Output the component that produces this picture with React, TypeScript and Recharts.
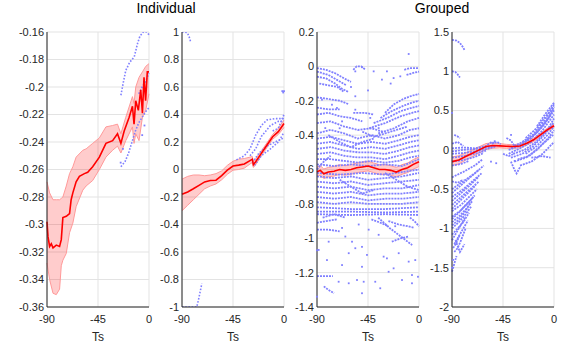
import { ComposedChart, Line, Area, Scatter, XAxis, YAxis, CartesianGrid } from 'recharts'

type Pt = [number, number]

const BLUE = '#8080ff'
const FONT = '"Liberation Sans", Arial, sans-serif'

const timeTicks = [-90, -45, 0]
const titles = ['Individual', 'Grouped']

// panel 1
const p1Ticks = [-0.36, -0.34, -0.32, -0.3, -0.28, -0.26, -0.24, -0.22, -0.2, -0.18, -0.16]
const p1MeanT = [-90, -89.1, -87.7, -86.2, -84.7, -81.8, -78.9, -77.4, -76, -73, -70.1, -68.7, -67.2, -64.3, -61.4, -57, -54.1, -49.7, -43.8, -38, -32.1, -27.8, -24.8, -21.9, -17.5, -14.6, -13.2, -11.7, -9.4, -7.3, -5.8, -4.4, -3, -1.5, 0]
const p1MeanV = [-0.298, -0.309, -0.316, -0.314, -0.317, -0.315, -0.316, -0.311, -0.295, -0.294, -0.292, -0.282, -0.277, -0.269, -0.265, -0.263, -0.262, -0.258, -0.251, -0.241, -0.239, -0.234, -0.241, -0.232, -0.222, -0.214, -0.227, -0.21, -0.217, -0.202, -0.219, -0.193, -0.21, -0.189, -0.189]
const p1BandT = [-90, -87.7, -84.7, -81.8, -78.9, -77.4, -76, -73, -70.1, -67.2, -64.3, -58.4, -55.5, -49.7, -43.8, -38, -32.1, -27.8, -24.8, -20.5, -14.6, -13.2, -11.7, -8.8, -5.8, -2.9, 0]
const p1BandHi = [-0.269, -0.277, -0.282, -0.282, -0.282, -0.281, -0.28, -0.272, -0.263, -0.258, -0.251, -0.246, -0.245, -0.241, -0.237, -0.229, -0.228, -0.227, -0.234, -0.222, -0.207, -0.212, -0.2, -0.193, -0.189, -0.185, -0.183]
const p1BandLo = [-0.328, -0.34, -0.35, -0.351, -0.347, -0.33, -0.326, -0.321, -0.306, -0.299, -0.287, -0.275, -0.272, -0.268, -0.26, -0.251, -0.246, -0.243, -0.248, -0.239, -0.229, -0.241, -0.234, -0.239, -0.222, -0.217, -0.205]
const p1Streaks: Pt[][] = [
  [[-24.8, -0.206], [-22.5, -0.196], [-20.5, -0.188], [-17, -0.182], [-13, -0.178], [-10, -0.168], [-8, -0.163], [-5, -0.16], [-2, -0.16], [0, -0.162]],
  [[-24.8, -0.258], [-21, -0.254], [-18, -0.248], [-15, -0.24], [-12, -0.232], [-9, -0.226], [-6, -0.222], [-3, -0.218], [0, -0.215]],
  [[-9, -0.205], [-6, -0.2], [-3, -0.196], [0, -0.19]],
]
const p1Dots: Pt[] = [[-25, -0.255], [-23, -0.245], [-6, -0.235], [-4, -0.228]]

// panel 2
const p2Ticks = [-1, -0.8, -0.6, -0.4, -0.2, 0, 0.2, 0.4, 0.6, 0.8, 1]
const p2T = [-90, -85, -80, -75, -70, -65, -60, -55, -50, -45, -40, -35, -30, -28, -27, -25, -20, -15, -10, -5, 0]
const p2Mean = [-0.18, -0.163, -0.14, -0.115, -0.09, -0.08, -0.078, -0.045, -0.005, 0.025, 0.032, 0.04, 0.065, 0.075, 0.035, 0.056, 0.117, 0.178, 0.238, 0.275, 0.335]
const p2Hi = [-0.07, -0.05, -0.04, -0.04, -0.045, -0.04, -0.03, -0.01, 0.03, 0.06, 0.075, 0.08, 0.09, 0.095, 0.06, 0.08, 0.135, 0.195, 0.255, 0.3, 0.36]
const p2Lo = [-0.3, -0.26, -0.22, -0.18, -0.14, -0.12, -0.105, -0.075, -0.035, -0.005, 0, 0.01, 0.04, 0.05, 0.015, 0.035, 0.1, 0.16, 0.22, 0.255, 0.305]
const p2Streaks: Pt[][] = [
  [[-90, 1], [-87, 1], [-85, 0.99], [-84, 0.97], [-83, 0.95], [-82.5, 0.93]],
  [[-90, -1], [-80, -1], [-77, -1], [-75.5, -0.95], [-74, -0.89], [-72.5, -0.83]],
  [[-42, 0.07], [-35, 0.1], [-30, 0.15], [-25, 0.25], [-20, 0.32], [-15, 0.36], [-8, 0.37], [0, 0.37]],
  [[-30, 0.1], [-25, 0.15], [-20, 0.24], [-12, 0.32], [-5, 0.35], [0, 0.35]],
  [[-28, 0.05], [-22, 0.12], [-15, 0.17], [-8, 0.2], [0, 0.23]],
  [[-26, 0.03], [-20, 0.1], [-12, 0.15], [-5, 0.2], [0, 0.27]],
  [[-10, 0.28], [-5, 0.3], [0, 0.4]],
]
const p2Dots: Pt[] = [[-1.5, 0.57], [0, 0.57], [-0.7, 0.56]]

// panel 3
const p3Ticks = [-1.4, -1.2, -1, -0.8, -0.6, -0.4, -0.2, 0, 0.2]
const p3T = [-90, -87, -84, -80, -75, -70, -65, -60, -55, -50, -45, -40, -35, -30, -25, -20, -15, -10, -5, 0]
const p3Mean = [-0.613, -0.605, -0.625, -0.615, -0.61, -0.6, -0.605, -0.6, -0.59, -0.585, -0.58, -0.59, -0.6, -0.6, -0.605, -0.615, -0.6, -0.59, -0.57, -0.555]
const p3Hi = [-0.585, -0.578, -0.597, -0.588, -0.582, -0.572, -0.578, -0.572, -0.562, -0.557, -0.552, -0.562, -0.572, -0.572, -0.578, -0.588, -0.572, -0.562, -0.542, -0.527]
const p3Lo = [-0.641, -0.633, -0.653, -0.643, -0.638, -0.628, -0.633, -0.628, -0.618, -0.613, -0.608, -0.618, -0.628, -0.628, -0.633, -0.643, -0.628, -0.618, -0.598, -0.583]
const p3Streaks: Pt[][] = [
  [[-90, -0.01], [-82, -0.02], [-74, -0.04], [-66, -0.07], [-60, -0.09]],
  [[-90, -0.03], [-80, -0.05], [-72, -0.08], [-64, -0.11]],
  [[-90, -0.06], [-82, -0.07], [-74, -0.1], [-68, -0.13], [-62, -0.15]],
  [[-88, -0.1], [-80, -0.11], [-72, -0.12], [-66, -0.15]],
  [[-58, -0.02], [-55, 0], [-51, 0], [-47, -0.02]],
  [[-13, -0.02], [-8, -0.01], [-3, -0.01], [0, -0.01]],
  [[-11, -0.05], [-6, -0.04], [0, -0.03]],
  [[-90, -0.18], [-80, -0.19], [-70, -0.2], [-62, -0.22]],
  [[-90, -0.24], [-80, -0.25], [-70, -0.25]],
  [[-58, -0.27], [-48, -0.27], [-40, -0.28]],
  [[-30, -0.27], [-22, -0.22], [-14, -0.19], [-6, -0.17], [0, -0.16]],
  [[-34, -0.3], [-24, -0.26], [-14, -0.23], [-6, -0.21], [0, -0.2]],
  [[-40, -0.33], [-28, -0.3], [-16, -0.26], [-6, -0.24], [0, -0.23]],
  [[-44, -0.36], [-30, -0.33], [-16, -0.29], [-6, -0.27], [0, -0.26]],
  [[-36, -0.39], [-22, -0.36], [-10, -0.32], [0, -0.3]],
  [[-90, -0.28], [-80, -0.27], [-70, -0.29], [-60, -0.3], [-50, -0.32]],
  [[-90, -0.33], [-78, -0.32], [-66, -0.35], [-54, -0.37], [-42, -0.36], [-32, -0.38]],
  [[-90, -0.39], [-78, -0.37], [-66, -0.39], [-54, -0.42], [-42, -0.4], [-30, -0.42], [-18, -0.4], [-8, -0.37], [0, -0.36]],
  [[-90, -0.42], [-78, -0.41], [-66, -0.43], [-54, -0.45], [-42, -0.44], [-30, -0.45], [-18, -0.43], [-8, -0.41], [0, -0.4]],
  [[-80, -0.4], [-70, -0.44], [-60, -0.47], [-50, -0.44], [-40, -0.42]],
  [[-50, -0.38], [-40, -0.41], [-30, -0.39], [-20, -0.37], [-10, -0.35]],
  [[-90, -0.45], [-78, -0.44], [-66, -0.46], [-54, -0.48], [-42, -0.47], [-30, -0.48], [-18, -0.46], [-8, -0.44], [0, -0.43]],
  [[-90, -0.48], [-78, -0.47], [-66, -0.49], [-54, -0.5], [-42, -0.5], [-30, -0.51], [-18, -0.49], [-8, -0.47], [0, -0.46]],
  [[-90, -0.51], [-78, -0.5], [-66, -0.52], [-54, -0.53], [-42, -0.53], [-30, -0.54], [-18, -0.52], [-8, -0.5], [0, -0.49]],
  [[-90, -0.54], [-78, -0.54], [-66, -0.55], [-54, -0.56], [-42, -0.55], [-30, -0.56], [-18, -0.55], [-8, -0.53], [0, -0.52]],
  [[-90, -0.57], [-75, -0.58], [-60, -0.57], [-45, -0.58], [-30, -0.57], [-15, -0.58], [0, -0.54]],
  [[-90, -0.6], [-85, -0.56], [-78, -0.52]],
  [[-90, -0.62], [-70, -0.63], [-50, -0.62], [-30, -0.63], [0, -0.6]],
  [[-90, -0.64], [-75, -0.65], [-60, -0.64], [-45, -0.66], [-30, -0.65], [-15, -0.64], [0, -0.62]],
  [[-90, -0.67], [-75, -0.68], [-60, -0.67], [-45, -0.69], [-30, -0.68], [-15, -0.67], [0, -0.66]],
  [[-70, -0.66], [-60, -0.7], [-50, -0.74], [-40, -0.72]],
  [[-30, -0.62], [-20, -0.66], [-10, -0.7], [0, -0.72]],
  [[-90, -0.7], [-75, -0.71], [-60, -0.7], [-45, -0.72], [-30, -0.71], [-15, -0.71], [0, -0.69]],
  [[-90, -0.73], [-75, -0.74], [-60, -0.73], [-45, -0.75], [-30, -0.74], [-15, -0.74], [0, -0.73]],
  [[-90, -0.76], [-75, -0.77], [-60, -0.76], [-45, -0.78], [-30, -0.77], [-15, -0.77], [0, -0.76]],
  [[-90, -0.79], [-75, -0.8], [-60, -0.79], [-45, -0.8], [-30, -0.8], [-15, -0.8], [0, -0.79]],
  [[-90, -0.82], [-60, -0.83], [-30, -0.83], [0, -0.82]],
  [[-90, -0.845], [-60, -0.845], [-30, -0.85], [0, -0.845]],
  [[-90, -0.86], [-60, -0.865], [-30, -0.86], [0, -0.865]],
  [[-85, -0.88], [-75, -0.86], [-65, -0.88]],
  [[-90, -0.91], [-82, -0.9], [-72, -0.89]],
  [[-90, -0.95], [-80, -0.95], [-70, -0.96]],
  [[-42, -0.89], [-34, -0.91], [-27, -0.93]],
  [[-27, -0.9], [-18, -0.92], [-10, -0.93], [-4, -0.94]],
  [[-36, -0.88], [-26, -0.94], [-16, -0.99], [-6, -1.04]],
  [[-24, -1.02], [-16, -1.0], [-9, -0.99]],
  [[-90, -1.22], [-84, -1.22], [-76, -1.22]],
  [[-84, -1.28], [-80, -1.3], [-75, -1.32]],
  [[-8, -0.88], [-4, -0.9], [0, -0.93]],
]
const p3Dots: Pt[] = [
  [-56.2, -0.029], [-50.3, -0.005], [-40, -0.029], [-32.7, -0.077], [-28.3, -0.029], [-22.4, -0.068], [-16.5, -0.058],
  [-9.1, 0.072], [-85.6, -0.194], [-76.8, -0.223], [-72.4, -0.242], [-56.2, -0.174], [-56.2, -0.252], [-82.7, -0.359],
  [-67.9, -0.32], [-43, -0.3], [-35.6, -0.359], [-79.7, -1.02], [-65, -0.99], [-59.1, -1.02], [-56.2, -1.058],
  [-62, -1.087], [-50.3, -1.05], [-45.9, -1.097], [-35.6, -0.98], [-31.2, -1.107], [-17.9, -1.087], [-9.1, -1.136],
  [-3.3, -1.127], [-88.5, -1.068], [-81.2, -1.127], [-67.9, -1.156], [-50.3, -1.166], [-28.3, -1.117], [-22.4, -1.175],
  [-26.8, -1.195], [-6.2, -1.214], [-0.9, -1.224], [-70.9, -1.253], [-62, -1.262], [-54.7, -1.243], [-48.8, -1.253],
  [-38.6, -1.253], [-34.2, -1.291], [-15, -1.243], [-6.2, -1.262], [-50.3, -1.32], [-90, -1.34], [-90, -1.07],
  [-67.9, -0.94], [-53.2, -0.92], [-44.4, -0.95], [-21, -0.93], [-60, -0.12], [-45, -0.14], [-25, -0.1], [-70, -0.36],
]

// panel 4
const p4Ticks = [-2, -1.5, -1, -0.5, 0, 0.5, 1, 1.5]
const p4T = [-90, -84, -78, -72, -66, -60, -54, -48, -42, -36, -30, -24, -18, -12, -6, 0]
const p4Mean = [-0.15, -0.128, -0.085, -0.043, 0, 0.043, 0.055, 0.051, 0.045, 0.043, 0.05, 0.085, 0.128, 0.19, 0.255, 0.306]
const p4Hi = [-0.09, -0.075, -0.04, 0, 0.04, 0.08, 0.09, 0.08, 0.07, 0.065, 0.075, 0.11, 0.15, 0.21, 0.275, 0.325]
const p4Lo = [-0.2, -0.18, -0.13, -0.085, -0.04, 0.005, 0.02, 0.025, 0.02, 0.02, 0.025, 0.06, 0.105, 0.17, 0.235, 0.285]
const p4Streaks: Pt[][] = [
  [[-90, 1.4], [-86, 1.39], [-83, 1.36], [-80, 1.3], [-79, 1.27]],
  [[-90, 1.0], [-87, 0.99], [-85, 0.96], [-83, 0.92]],
  [[-88, 0.19], [-85, 0.17], [-83, 0.15]],
  [[-90, 0.02], [-80, 0.03], [-70, 0.02], [-60, 0.05], [-55, 0.1], [-52, 0.08]],
  [[-90, -0.02], [-80, 0], [-70, 0.01], [-60, 0.03], [-50, 0.05]],
  [[-90, -0.05], [-80, -0.04], [-70, -0.02], [-60, 0.01], [-52, 0.04]],
  [[-90, -0.1], [-80, -0.08], [-70, -0.05], [-60, -0.01]],
  [[-90, -0.15], [-80, -0.13], [-70, -0.09], [-62, -0.04]],
  [[-90, 0.08], [-85, 0.1], [-80, 0.05]],
  [[-90, -0.2], [-82, -0.18], [-75, -0.14]],
  [[-90, -0.35], [-80, -0.28], [-70, -0.2], [-63, -0.12]],
  [[-90, -0.5], [-80, -0.4], [-70, -0.3], [-62, -0.2]],
  [[-90, -0.55], [-82, -0.45], [-74, -0.35], [-66, -0.25]],
  [[-90, -0.6], [-80, -0.5], [-72, -0.4], [-64, -0.3]],
  [[-90, -0.65], [-82, -0.55], [-74, -0.45], [-67, -0.35]],
  [[-90, -0.7], [-82, -0.6], [-74, -0.5], [-66, -0.4]],
  [[-90, -0.75], [-83, -0.65], [-76, -0.55], [-69, -0.45]],
  [[-90, -0.78], [-82, -0.7], [-75, -0.6], [-68, -0.5]],
  [[-90, -0.85], [-83, -0.78], [-76, -0.68], [-70, -0.58]],
  [[-90, -0.88], [-84, -0.8], [-78, -0.7], [-71, -0.6]],
  [[-90, -0.92], [-84, -0.85], [-78, -0.76], [-72, -0.65]],
  [[-90, -0.96], [-85, -0.9], [-79, -0.8], [-74, -0.68]],
  [[-90, -1.0], [-84, -0.92], [-78, -0.82], [-73, -0.72]],
  [[-90, -1.08], [-85, -1.0], [-80, -0.92], [-75, -0.8]],
  [[-90, -1.15], [-86, -1.05], [-82, -0.95], [-78, -0.85]],
  [[-88, -1.2], [-84, -1.1], [-80, -1.0], [-76, -0.9]],
  [[-89, -1.25], [-86, -1.18], [-83, -1.08]],
  [[-88, -1.3], [-85, -1.25], [-82, -1.15], [-78, -1.0]],
  [[-90, -1.55], [-88, -1.45], [-86, -1.35]],
  [[-90, -0.4], [-85, -0.42], [-80, -0.38]],
  [[-87, -1.15], [-83, -1.3], [-79, -1.2]],
  [[-40, 0], [-30, 0.05], [-20, 0.15], [-10, 0.3], [0, 0.5]],
  [[-38, 0.02], [-28, 0.08], [-18, 0.18], [-8, 0.34], [0, 0.52]],
  [[-40, -0.05], [-30, 0.02], [-20, 0.1], [-10, 0.25], [0, 0.45]],
  [[-36, -0.05], [-26, 0], [-16, 0.1], [-6, 0.25], [0, 0.4]],
  [[-38, -0.1], [-28, -0.05], [-18, 0.05], [-8, 0.2], [0, 0.35]],
  [[-35, 0.05], [-25, 0.12], [-15, 0.22], [-5, 0.4], [0, 0.55]],
  [[-35, -0.15], [-25, -0.1], [-15, 0], [-5, 0.15], [0, 0.25]],
  [[-32, -0.12], [-22, -0.08], [-12, 0.05], [-4, 0.15], [0, 0.2]],
  [[-30, -0.2], [-20, -0.15], [-10, -0.05], [0, 0.1]],
  [[-28, 0.1], [-18, 0.2], [-8, 0.38], [0, 0.58]],
  [[-25, 0.15], [-15, 0.28], [-6, 0.45], [0, 0.55]],
  [[-20, -0.1], [-10, -0.08], [-3, -0.1]],
  [[-42, 0.15], [-38, 0.12], [-35, 0.05]],
  [[-38, -0.15], [-35, -0.25], [-33, -0.3], [-30, -0.22]],
  [[-45, -0.05], [-40, -0.08], [-35, -0.05]],
  [[-55, 0.08], [-50, 0.1], [-47, 0.07]],
  [[-25, -0.05], [-15, 0.05], [-5, 0.2], [0, 0.3]],
  [[-15, 0.3], [-8, 0.45], [0, 0.6]],
]
const p4Dots: Pt[] = [[-90, 0.47], [-52.3, 0.11], [-37.9, 0.19], [-55.6, -0.15], [-51, -0.17], [-34.7, -0.14], [-90, -1.5], [-89, -1.4]]

const toRows = (pts: Pt[]) => pts.map(([t, v]) => ({ t, v }))
const fmt = (v: number) => String(Number(v.toFixed(2)))

const dotShape = (p: any) => (
  <rect x={p.cx - 0.9} y={p.cy - 0.9} width={1.8} height={1.8} fill={BLUE} />
)

const AXIS_W = 44
const PLOT_W = 102

function Panel(props: {
  left: number
  ticks: number[]
  streaks: Pt[][]
  dots: Pt[]
  bandT: number[]
  lo: number[]
  hi: number[]
  meanT: number[]
  mean: number[]
  dash: string
  width: number
}) {
  const { left, ticks, streaks, dots, bandT, lo, hi, meanT, mean, dash, width } = props
  const band = bandT.map((t, i) => ({ t, band: [lo[i], hi[i]] }))
  const meanRows = meanT.map((t, i) => ({ t, v: mean[i] }))
  return (
    <div style={{ position: 'absolute', left: left - AXIS_W, top: 0 }}>
      <ComposedChart width={PLOT_W + AXIS_W + 4} height={345} margin={{ top: 32, right: 4, left: 0, bottom: 0 }}>
        <CartesianGrid stroke="#e3e3e3" />
        <XAxis
          type="number"
          dataKey="t"
          domain={[-90, 0]}
          ticks={timeTicks}
          height={38}
          tickLine={false}
          tickSize={6}
          tickMargin={2}
          axisLine={{ stroke: '#262626' }}
          tick={{ fontSize: 11, fill: '#262626', fontFamily: FONT }}
          label={{ value: 'Ts', position: 'insideBottom', offset: 4, fontSize: 12, fill: '#262626', fontFamily: FONT }}
        />
        <YAxis
          type="number"
          dataKey="v"
          domain={[ticks[0], ticks[ticks.length - 1]]}
          ticks={ticks}
          width={AXIS_W}
          tickLine={false}
          tickSize={3}
          tickMargin={0}
          tickFormatter={fmt}
          axisLine={{ stroke: '#262626' }}
          tick={{ fontSize: 11, fill: '#262626', fontFamily: FONT }}
          allowDataOverflow
        />
        {streaks.map((s, i) => (
          <Line
            key={'s' + i}
            data={toRows(s)}
            dataKey="v"
            stroke={BLUE}
            strokeWidth={width}
            strokeDasharray={dash}
            dot={false}
            activeDot={false}
            isAnimationActive={false}
          />
        ))}
        <Scatter data={toRows(dots)} shape={dotShape} isAnimationActive={false} />
        <Area
          data={band}
          dataKey="band"
          stroke="#ff9999"
          strokeWidth={1}
          fill="#ff0000"
          fillOpacity={0.2}
          activeDot={false}
          isAnimationActive={false}
        />
        <Line data={meanRows} dataKey="v" stroke="#ff0000" strokeWidth={1.6} dot={false} activeDot={false} isAnimationActive={false} />
      </ComposedChart>
    </div>
  )
}

export default function App() {
  return (
    <div style={{ position: 'absolute', left: 0, top: 0, width: 562, height: 345, background: '#fff', fontFamily: FONT }}>
      <div style={{ position: 'absolute', left: 116, top: -1, width: 100, textAlign: 'center', fontSize: 14, lineHeight: '18px', color: '#000' }}>
        {titles[0]}
      </div>
      <div style={{ position: 'absolute', left: 392, top: -1, width: 100, textAlign: 'center', fontSize: 14, lineHeight: '18px', color: '#000' }}>
        {titles[1]}
      </div>
      <Panel left={47} ticks={p1Ticks} streaks={p1Streaks} dots={p1Dots} bandT={p1BandT} lo={p1BandLo} hi={p1BandHi} meanT={p1MeanT} mean={p1MeanV} dash="1.6 1.6" width={1.6} />
      <Panel left={182} ticks={p2Ticks} streaks={p2Streaks} dots={p2Dots} bandT={p2T} lo={p2Lo} hi={p2Hi} meanT={p2T} mean={p2Mean} dash="1.6 1.6" width={1.6} />
      <Panel left={317} ticks={p3Ticks} streaks={p3Streaks} dots={p3Dots} bandT={p3T} lo={p3Lo} hi={p3Hi} meanT={p3T} mean={p3Mean} dash="2 1" width={1.8} />
      <Panel left={452} ticks={p4Ticks} streaks={p4Streaks} dots={p4Dots} bandT={p4T} lo={p4Lo} hi={p4Hi} meanT={p4T} mean={p4Mean} dash="2 1" width={1.8} />
    </div>
  )
}
